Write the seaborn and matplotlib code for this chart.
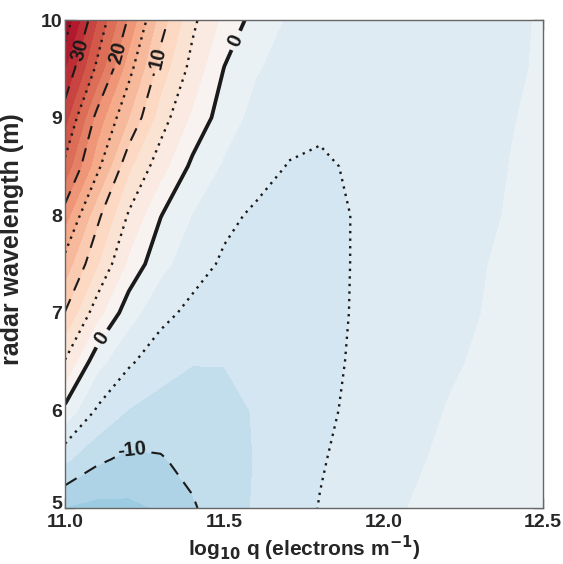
import numpy as np
import matplotlib
matplotlib.use("Agg")
import matplotlib.pyplot as plt
import matplotlib.transforms as mtransforms
import seaborn as sns

# grid (log10 q along x, wavelength along y)
log_q = [11.0, 11.1, 11.2, 11.3, 11.4, 11.5, 11.6, 11.7,
         11.8, 11.9, 12.0, 12.1, 12.2, 12.3, 12.4, 12.5]
wavelength = [5.0, 5.5, 6.0, 6.5, 7.0, 7.5, 8.0, 8.5, 9.0, 9.5, 10.0]

# percent change, one row per wavelength
w50 = [-12.6, -13.2, -13.0, -12.3, -10.3, -8.4, -7.3, -6.2, -4.9, -4.0, -3.1, -2.3, -1.6, -1.1, -0.6, -0.2]
w55 = [-7.0, -9.5, -10.6, -10.2, -9.2, -8.4, -7.4, -6.3, -5.2, -4.3, -3.6, -2.8, -2.0, -1.4, -0.9, -0.4]
w60 = [-0.7, -5.3, -7.6, -8.4, -8.6, -8.3, -7.3, -6.6, -5.7, -4.5, -3.9, -3.3, -2.4, -1.8, -1.2, -0.7]
w65 = [4.8, -1.6, -4.6, -6.5, -7.4, -7.4, -7.2, -6.8, -6.1, -4.7, -4.1, -3.5, -2.9, -2.2, -1.6, -1.0]
w70 = [9.9, 3.5, -1.5, -4.2, -5.7, -6.3, -6.6, -6.5, -6.0, -4.9, -4.3, -3.7, -3.1, -2.55, -1.8, -1.2]
w75 = [13.9, 7.8, 1.9, -1.8, -3.9, -5.4, -6.0, -6.2, -5.9, -4.95, -4.5, -3.9, -3.3, -2.7, -2.0, -1.4]
w80 = [18.7, 10.8, 4.7, 0.1, -2.6, -4.4, -5.4, -5.8, -5.6, -4.97, -4.6, -4.1, -3.6, -3.0, -2.3, -1.7]
w85 = [24.2, 15.9, 8.0, 3.5, -0.6, -2.85, -4.0, -5.1, -5.3, -4.8, -4.4, -4.0, -3.6, -3.1, -2.45, -2.0]
w90 = [28.5, 19.1, 12.5, 6.3, 2.0, -1.35, -3.3, -4.2, -4.6, -4.5, -4.2, -3.9, -3.5, -3.0, -2.6, -2.1]
w95 = [32.5, 24.4, 16.0, 8.8, 4.1, -0.1, -2.35, -3.3, -3.8, -4.0, -4.0, -3.8, -3.5, -3.1, -2.75, -2.3]
w100 = [37.0, 27.5, 19.6, 11.3, 5.6, 1.8, -1.0, -2.8, -3.3, -3.5, -3.6, -3.5, -3.3, -3.0, -2.7, -2.4]

dotted_levels = [-5, 5, 15, 25, 35]
dashed_levels = [-10, 10, 20, 30]
zero_level = [0]

sns.set_theme(style="ticks")
plt.rcParams['font.family'] = ['Liberation Sans', 'DejaVu Sans']
plt.rcParams['font.weight'] = 'bold'
plt.rcParams['axes.labelweight'] = 'bold'

Q, W = np.meshgrid(log_q, wavelength)
Z = np.array([w50, w55, w60, w65, w70, w75, w80, w85, w90, w95, w100])

fig, ax = plt.subplots(figsize=(5.63, 5.64), dpi=100)
fig.subplots_adjust(left=0.1155, right=0.9645, bottom=0.0993, top=0.9645)

# band colours: RdBu_r, blue side pushed a little away from white
cmap = sns.color_palette("RdBu_r", as_cmap=True)
fill_levels = np.arange(-15, 40.1, 2.5)
mids = (fill_levels[:-1] + fill_levels[1:]) / 2
band_colors = [cmap(0.5 + m / 85) if m > 0 else cmap(0.48 + m / 85) for m in mids]
ax.contourf(Q, W, Z, levels=fill_levels, colors=band_colors)

dots = ax.contour(Q, W, Z, levels=dotted_levels, colors='k', linewidths=1.7,
                  linestyles=[(0, (1, 2.2))])
dashes = ax.contour(Q, W, Z, levels=dashed_levels, colors='k', linewidths=1.5,
                    linestyles=[(0, (6.5, 4.5))])
solid = ax.contour(Q, W, Z, levels=zero_level, colors='k', linewidths=2.7)

labs = ax.clabel(dashes, fmt='%d', fontsize=14.5, inline=True, inline_spacing=5,
                 manual=[(11.05, 9.69), (11.16, 9.67), (11.28, 9.62), (11.21, 5.58)])
labs += ax.clabel(solid, fmt='%d', fontsize=14.5, inline=True, inline_spacing=5,
                  manual=[(11.53, 9.8), (11.11, 6.75)])
for t in labs:
    t.set_fontweight('bold')

ax.set_xlim(11.0, 12.5)
ax.set_ylim(5, 10)
ax.set_xticks([11.0, 11.5, 12.0, 12.5])
ax.set_xticklabels(['11.0', '11.5', '12.0', '12.5'])
ax.set_yticks([5, 6, 7, 8, 9, 10])
ax.tick_params(direction='in', top=True, right=True, length=7, width=1,
               color='#777777', labelsize=14)
ax.tick_params(axis='x', pad=4)
ax.tick_params(axis='y', pad=2)
for lab in ax.get_xticklabels() + ax.get_yticklabels():
    lab.set_fontweight('bold')
# lift the bottom "5" a touch so it clears "11.0"
lab5 = ax.get_yticklabels()[0]
lab5.set_transform(lab5.get_transform() +
                   mtransforms.ScaledTranslation(0, 4 / 72, fig.dpi_scale_trans))
for sp in ax.spines.values():
    sp.set_color('#666666')
    sp.set_linewidth(1.0)

ax.set_xlabel('log$_{\\mathbf{10}}$ q (electrons m$^{\\mathbf{-1}}$)', fontsize=15, labelpad=2)
ax.set_ylabel('radar wavelength (m)', fontsize=18)
ax.yaxis.set_label_coords(-0.085, 0.55)

fig.savefig('out.png', dpi=100)
